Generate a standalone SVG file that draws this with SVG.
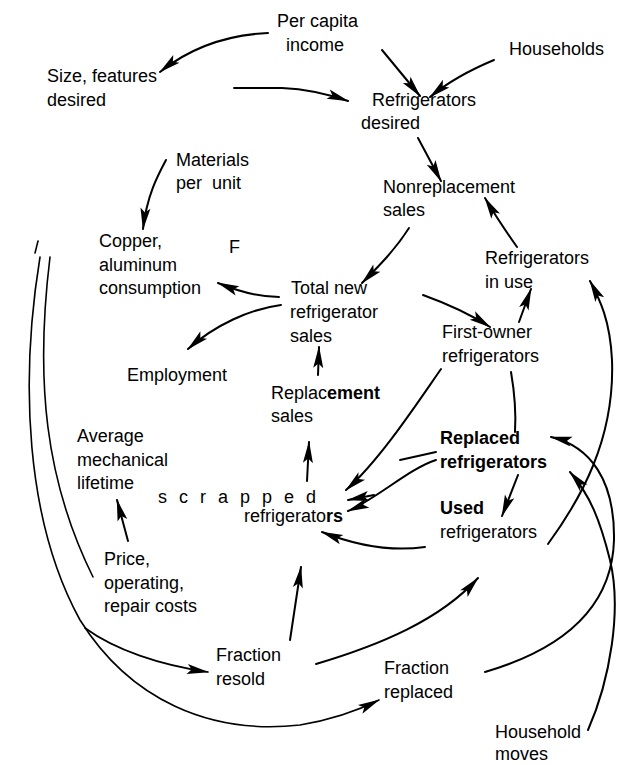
<svg xmlns="http://www.w3.org/2000/svg" width="621" height="765" viewBox="0 0 621 765">
  <defs>
    <marker id="head" markerUnits="userSpaceOnUse" markerWidth="22" markerHeight="11" refX="21" refY="5.5" orient="auto" overflow="visible">
      <path d="M0,0.5 L22,5.5 L0,10.5 L4.5,5.5 Z" fill="#000"/>
    </marker>
  </defs>
  <style>
    text { font-family: "Liberation Sans", Arial, Helvetica, sans-serif; font-size: 18px; fill: #000; }
    .b { font-weight: bold; }
    .spaced { letter-spacing: 12px; }
    .link { fill: none; stroke: #000; stroke-width: 2; stroke-linecap: round; }
    .arrow { marker-end: url(#head); }
    .thin { stroke-width: 1.6; }
  </style>
  <rect width="621" height="765" fill="#fff"/>

  <!-- connectors -->
  <g id="connectors">
    <path class="link arrow" d="M268,33 C225,35 190,48 160,72"/>
    <path class="link arrow" d="M382,50 L420,96"/>
    <path class="link arrow" d="M494,60 C470,70 448,82 430,97"/>
    <path class="link arrow" d="M234,88 L282,88 C305,89 325,93 348,101"/>
    <path class="link arrow" d="M418,138 L441,181"/>
    <path class="link arrow" d="M166,160 C158,175 147,195 143,229"/>
    <path class="link arrow" d="M409,228 C395,250 378,267 362,283"/>
    <path class="link arrow" d="M517,247 C505,230 495,215 485,198"/>
    <path class="link arrow" d="M279,297 C258,297 240,292 218,283"/>
    <path class="link arrow" d="M281,305 C250,309 215,325 188,349"/>
    <path class="link arrow" d="M423,295 C448,304 470,314 490,327"/>
    <path class="link arrow" d="M519,322 L531,289"/>
    <path class="link arrow" d="M318,375 L319,347"/>
    <path class="link arrow" d="M307,481 L309,442"/>
    <path class="link arrow" d="M441,369 C418,402 380,460 346,490"/>
    <path class="link" d="M436,452 L400,460"/>
    <path class="link arrow" d="M374,495 L348,500"/>
    <path class="link arrow" d="M436,460 C410,468 375,500 348,511"/>
    <path class="link arrow" d="M425,547 C390,552 355,545 322,532"/>
    <path class="link arrow" d="M290,640 L301,567"/>
    <path class="link arrow" d="M128,541 L117,500"/>
    <path class="link" d="M511,372 C515,395 516,415 515,432"/>
    <path class="link arrow" d="M518,475 L502,516"/>
    <path class="link arrow" d="M548,544 C580,500 615,440 612,360 C610,320 600,300 590,281"/>
    <path class="link arrow" d="M485,672 C560,650 612,610 614,540 C615,480 590,446 551,437"/>
    <path class="link arrow" d="M588,730 C610,680 622,610 610,560 C600,520 590,495 570,472"/>
    <path class="link arrow" d="M316,664 C380,645 440,620 478,578"/>
    <path class="link thin arrow" d="M40,257 C20,380 25,520 80,620 C130,700 210,735 300,725 C330,720 355,712 379,700"/>
    <path class="link thin arrow" d="M85,628 C115,650 160,665 208,672"/>
    <path class="link thin" d="M50,257 C35,380 45,480 93,577"/>
    <path class="link thin" d="M35,253 L38,241"/>
  </g>

  <!-- variables -->
  <g id="per-capita-income"><text x="277" y="27">Per capita</text><text x="286" y="51">income</text></g>
  <g id="households"><text x="509" y="55">Households</text></g>
  <g id="size-features-desired"><text x="47" y="82">Size, features</text><text x="47" y="106">desired</text></g>
  <g id="refrigerators-desired"><text x="372" y="106">Refrigerators</text><text x="361" y="129">desired</text></g>
  <g id="materials-per-unit"><text x="176" y="166">Materials</text><text x="176" y="189" xml:space="preserve">per  unit</text></g>
  <g id="nonreplacement-sales"><text x="383" y="193">Nonreplacement</text><text x="383" y="216">sales</text></g>
  <g id="copper-aluminum"><text x="99" y="247">Copper,</text><text x="99" y="271">aluminum</text><text x="99" y="294">consumption</text></g>
  <g id="mark-f"><text x="229" y="253">F</text></g>
  <g id="refrigerators-in-use"><text x="485" y="264">Refrigerators</text><text x="485" y="288">in use</text></g>
  <g id="total-new-sales"><text x="291" y="294">Total new</text><text x="290" y="318">refrigerator</text><text x="290" y="342">sales</text></g>
  <g id="employment"><text x="127" y="381">Employment</text></g>
  <g id="first-owner"><text x="442" y="338">First-owner</text><text x="442" y="362">refrigerators</text></g>
  <g id="replacement-sales"><text x="271" y="399">Replac<tspan class="b">ement</tspan></text><text x="271" y="422">sales</text></g>
  <g id="average-lifetime"><text x="77" y="442">Average</text><text x="77" y="466">mechanical</text><text x="77" y="489">lifetime</text></g>
  <g id="scrapped"><text class="spaced" x="158" y="503">scrapped</text><text x="244" y="522">refrigerato<tspan class="b">rs</tspan></text></g>
  <g id="replaced"><text class="b" x="440" y="444">Replaced</text><text class="b" x="440" y="468">refrigerators</text></g>
  <g id="used"><text x="440" y="514" class="b">Used</text><text x="440" y="538">refrigerators</text></g>
  <g id="price-costs"><text x="104" y="565">Price,</text><text x="104" y="589">operating,</text><text x="104" y="612">repair costs</text></g>
  <g id="fraction-resold"><text x="216" y="661">Fraction</text><text x="216" y="685">resold</text></g>
  <g id="fraction-replaced"><text x="384" y="674">Fraction</text><text x="384" y="698">replaced</text></g>
  <g id="household-moves"><text x="495" y="738">Household</text><text x="495" y="760">moves</text></g>
</svg>
